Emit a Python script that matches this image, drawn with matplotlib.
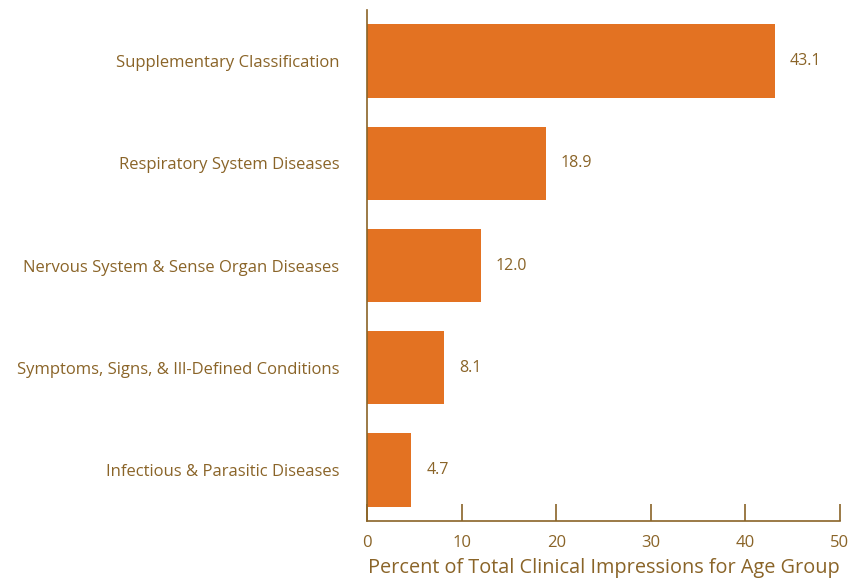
import matplotlib.pyplot as plt

categories = ["Supplementary Classification", "Respiratory System Diseases",
              "Nervous System & Sense Organ Diseases",
              "Symptoms, Signs, & Ill-Defined Conditions",
              "Infectious & Parasitic Diseases"]
values = [43.1, 18.9, 12.0, 8.1, 4.7]
xticks = [0, 10, 20, 30, 40, 50]

bar_color = "#E37222"
text_color = "#8A6428"
plt.rcParams['font.family'] = ['Open Sans', 'DejaVu Sans']

fig = plt.figure(figsize=(8.52, 5.78), dpi=100)
ax = fig.add_axes([0.4308, 0.0986, 0.5551, 0.8841])

pos = list(range(len(categories)))[::-1]
ax.barh(pos, values, height=0.72, color=bar_color)
for p, v in zip(pos, values):
    ax.text(v + 1.6, p, f"{v:.1f}", va="center", ha="left", color=text_color, fontsize=11.5)

ax.set_xlim(0, 50)
ax.set_ylim(-0.5, 4.5)
ax.set_yticks(pos)
ax.set_yticklabels(categories, color=text_color, fontsize=12)
ax.tick_params(axis="y", length=0, pad=20)
ax.set_xticks(xticks)
ax.tick_params(axis="x", direction="in", length=12, width=1.2, color=text_color,
               labelcolor=text_color, labelsize=12, pad=10)
ax.set_xlabel("Percent of Total Clinical Impressions for Age Group", color=text_color,
              fontsize=14.3, labelpad=5)
for s in ["top", "right"]:
    ax.spines[s].set_visible(False)
for s in ["left", "bottom"]:
    ax.spines[s].set_color(text_color)
    ax.spines[s].set_linewidth(1.2)

fig.savefig("out.png", dpi=100)
